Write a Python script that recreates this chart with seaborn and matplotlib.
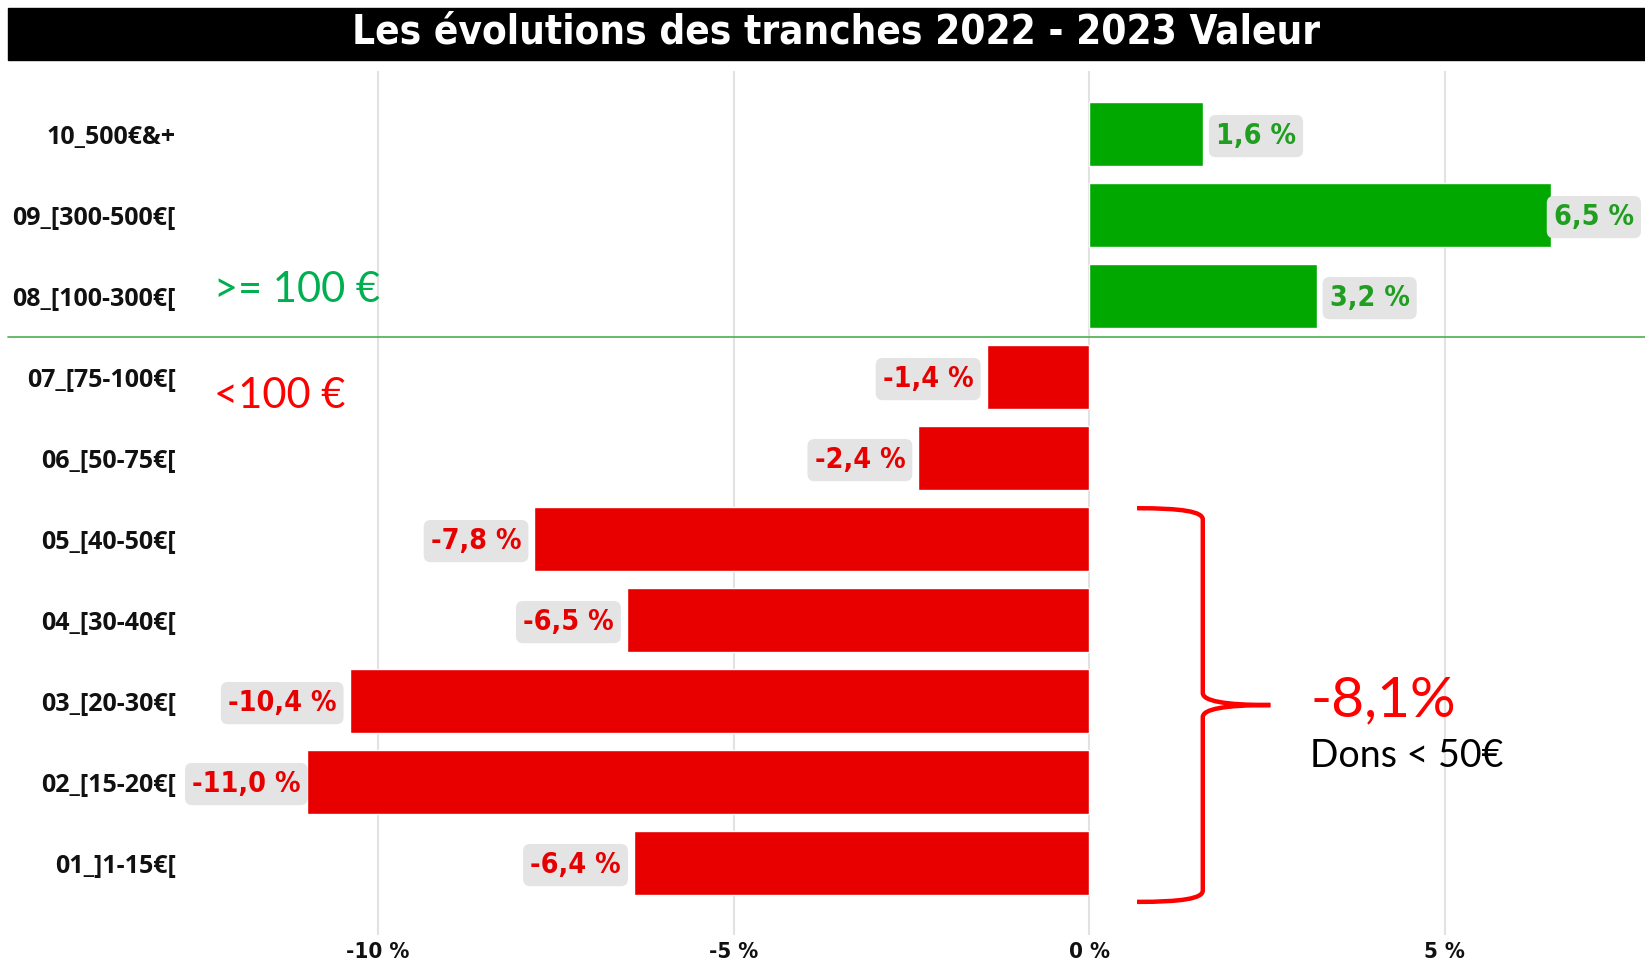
import matplotlib
matplotlib.use("Agg")
import matplotlib.pyplot as plt
import seaborn as sns
import pandas as pd
from matplotlib.path import Path
from matplotlib.patches import PathPatch, Rectangle
from matplotlib.font_manager import FontProperties
import matplotlib.transforms as mtransforms

# ---------------- data ----------------
categories = ["10_500€&+", "09_[300-500€[", "08_[100-300€[", "07_[75-100€[",
              "06_[50-75€[", "05_[40-50€[", "04_[30-40€[", "03_[20-30€[",
              "02_[15-20€[", "01_]1-15€["]
values = [1.6, 6.5, 3.2, -1.44, -2.4, -7.8, -6.5, -10.4, -11.0, -6.4]
xticks = [-10, -5, 0, 5]
xtick_labels = ["-10 %", "-5 %", "0 %", "5 %"]
title = "Les évolutions des tranches 2022 - 2023 Valeur"
label_high = ">= 100 €"
label_low = "<100 €"
total_small = "-8,1%"
total_small_caption = "Dons < 50€"

# ---------------- style ----------------
sns.set_theme(style="white")
plt.rcParams['font.family'] = ['DejaVu Sans']

GREEN_BAR = "#00a800"
RED_BAR = "#e80000"
GREEN_TXT = "#1f9e1f"
RED_TXT = "#e60000"

W, H = 1645, 960
fig = plt.figure(figsize=(W / 100, H / 100), dpi=100)
ax = fig.add_axes([184 / W, 25 / H, (W - 184) / W, (935 - 71) / H])

df = pd.DataFrame({"tranche": categories, "evolution": values})
colors = [GREEN_BAR if v > 0 else RED_BAR for v in values]
sns.barplot(data=df, x="evolution", y="tranche", hue="tranche", palette=colors,
            legend=False, width=0.78, ax=ax, orient="h", saturation=1)

ax.set_xlim(-12.73, 7.82)
ax.set_ylim(9.889, -0.778)
ax.set_xlabel("")
ax.set_ylabel("")
for s in ax.spines.values():
    s.set_visible(False)
ax.set_axisbelow(True)
ax.grid(axis="x", color="#e2e2e2", lw=1.5)
ax.grid(axis="y", visible=False)

cond_bold = dict(family="DejaVu Sans", weight="bold", stretch="condensed")
ax.set_xticks(xticks, xtick_labels)
for t in ax.get_xticklabels():
    t.set_fontproperties(FontProperties(size=16, **cond_bold))
    t.set_color("#111111")
for t in ax.get_yticklabels():
    t.set_fontproperties(FontProperties(family="Open Sans", weight="bold", size=18))
    t.set_color("#111111")
ax.tick_params(axis="x", length=0, pad=5)
ax.tick_params(axis="y", length=0, pad=6)

# value labels
fig.canvas.draw()
renderer = fig.canvas.get_renderer()
anns = []
for i, v in enumerate(values):
    txt = f"{v:.1f} %".replace(".", ",")
    pos = v > 0
    ann = ax.annotate(txt, xy=(v, i), xytext=(9.5 if pos else -9.5, -1.5),
                      textcoords="offset points", ha="left" if pos else "right",
                      va="center", color=GREEN_TXT if pos else RED_TXT,
                      fontproperties=FontProperties(size=20.5, **cond_bold),
                      bbox=dict(boxstyle="round,pad=0.25,rounding_size=0.25",
                                fc="#e4e4e4", ec="none"),
                      zorder=5)
    anns.append(ann)
fig.canvas.draw()
ax_bb = ax.get_window_extent(renderer)
for ann in anns:
    bb = ann.get_bbox_patch().get_window_extent(renderer)
    if bb.x0 < ax_bb.x0 + 1:
        dx = (ax_bb.x0 + 1) - bb.x0
        ann.xyann = (ann.xyann[0] + dx * 72 / 100, ann.xyann[1])
    elif bb.x1 > ax_bb.x1 - 4:
        dx = (ax_bb.x1 - 4) - bb.x1
        ann.xyann = (ann.xyann[0] + dx * 72 / 100, ann.xyann[1])

# title bar
fig.add_artist(Rectangle((8 / W, (H - 60) / H), 1 - 8 / W, 52 / H,
                         transform=fig.transFigure, color="black", zorder=0))
fig.text(836 / W, 1 - 33 / H, title, color="white", ha="center", va="center",
         fontproperties=FontProperties(size=29, **cond_bold))

# separator line between >=100 and <100
blend = mtransforms.blended_transform_factory(fig.transFigure, ax.transData)
ax.plot([8 / W, 1], [2.5, 2.5], transform=blend, color="#4caf50", lw=1.2,
        clip_on=False, zorder=4)

# group annotations
fig.text(214 / W, 1 - 290 / H, label_high, color="#00b050", ha="left",
         va="center", family="Lato", size=30)
fig.text(214 / W, 1 - 396 / H, label_low, color="#ff0000", ha="left",
         va="center", family="Lato", size=30)

# brace (data coords)
verts = [(0.675, 4.62), (1.30, 4.62), (1.60, 4.66), (1.60, 4.76),
         (1.60, 6.90),
         (1.60, 7.00), (1.90, 7.05), (2.55, 7.05),
         (1.90, 7.05), (1.60, 7.10), (1.60, 7.20),
         (1.60, 9.34),
         (1.60, 9.44), (1.30, 9.48), (0.675, 9.48)]
codes = [Path.MOVETO, Path.CURVE4, Path.CURVE4, Path.CURVE4,
         Path.LINETO,
         Path.CURVE4, Path.CURVE4, Path.CURVE4,
         Path.CURVE4, Path.CURVE4, Path.CURVE4,
         Path.LINETO,
         Path.CURVE4, Path.CURVE4, Path.CURVE4]
ax.add_patch(PathPatch(Path(verts, codes), fill=False, ec="#ff0000", lw=3.2,
                       clip_on=False, zorder=6, capstyle="butt"))

fig.text(1310 / W, 1 - 701 / H, total_small, color="#ff0000", ha="left",
         va="center", family="Lato", size=41)
fig.text(1310 / W, 1 - 756 / H, total_small_caption, color="black", ha="left",
         va="center", family="Lato", size=27)

fig.savefig("out.png", dpi=100)
